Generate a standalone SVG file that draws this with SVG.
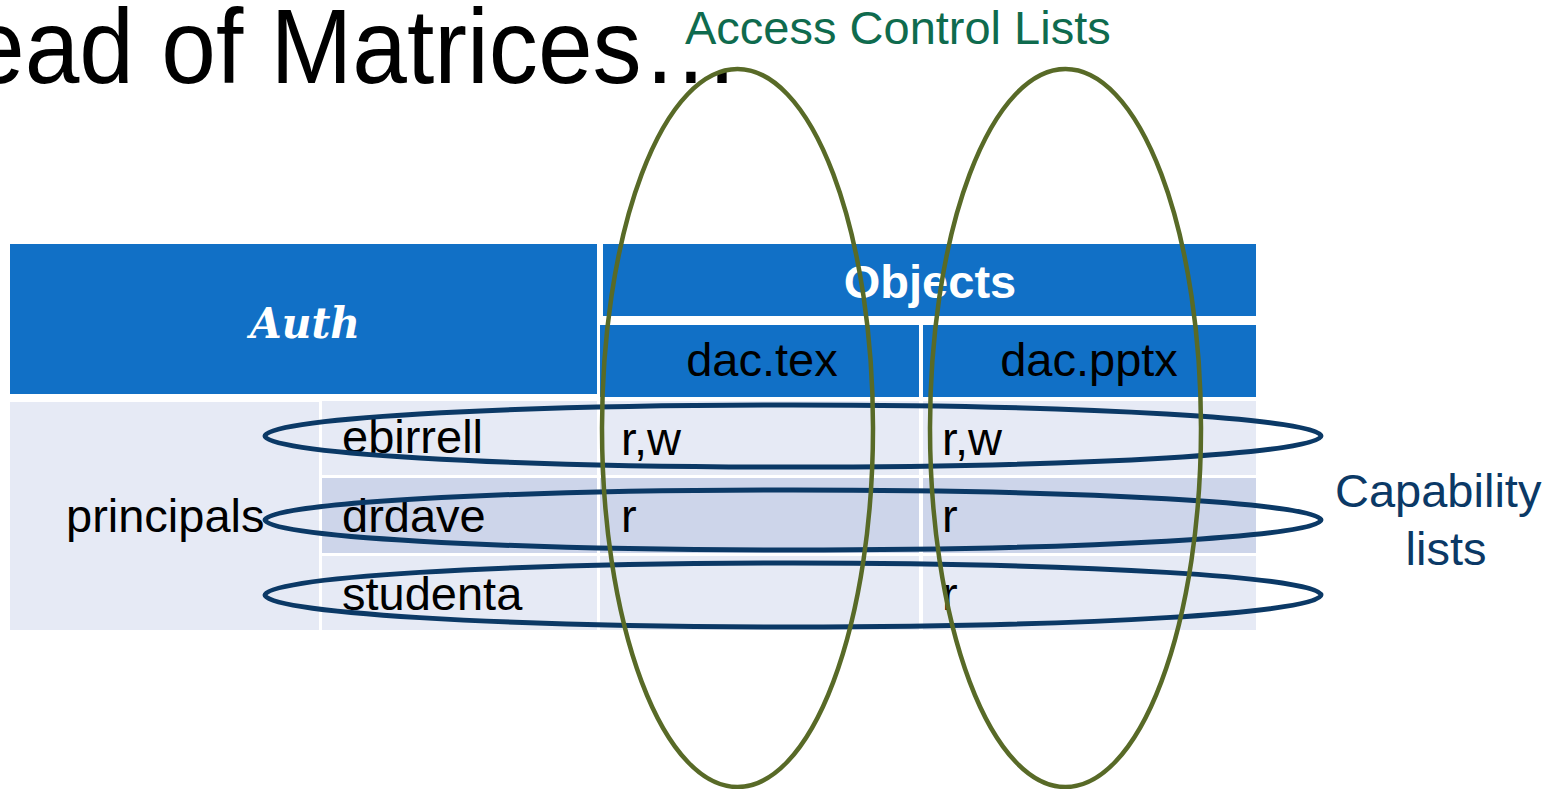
<svg xmlns="http://www.w3.org/2000/svg" width="1557" height="789" viewBox="0 0 1557 789">
<style>
  .hdr{fill:#1170C6}
  .lt{fill:#E6EAF5}
  .dk{fill:#CDD5EA}
  .cell{font-family:"Liberation Sans",Arial,sans-serif;font-size:47px;fill:#000}
  .hw{font-family:"Liberation Sans",Arial,sans-serif;font-size:47px;font-weight:bold;fill:#fff}
  .acl{fill:none;stroke:#586A27;stroke-width:4.5}
  .cap{fill:none;stroke:#0B3966;stroke-width:5}
</style>
<rect width="1557" height="789" fill="#fff"/>
<text id="title" x="-30" y="83" font-family="Liberation Sans, Arial, sans-serif" font-size="106" fill="#000" textLength="770" lengthAdjust="spacingAndGlyphs">ead of Matrices…</text>
<g id="label-acl"><text x="685" y="44" font-family="Liberation Sans, Arial, sans-serif" font-size="47" fill="#0F6B4E">Access Control Lists</text></g>
<g id="label-cap" font-family="Liberation Sans, Arial, sans-serif" font-size="47" fill="#0B3966">
  <text x="1335" y="507">Capability</text>
  <text x="1446" y="565" text-anchor="middle">lists</text>
</g>
<g id="table">
  <g id="cell-auth"><rect class="hdr" x="10" y="244" width="587" height="150"/>
    <text x="305" y="338" text-anchor="middle" font-family="DejaVu Serif, serif" font-style="italic" font-weight="bold" font-size="42" fill="#fff" textLength="110" lengthAdjust="spacingAndGlyphs">Auth</text></g>
  <g id="cell-objects"><rect class="hdr" x="603" y="244" width="653" height="72"/>
    <text class="hw" x="930" y="298" text-anchor="middle">Objects</text></g>
  <g id="cell-dactex"><rect class="hdr" x="600" y="325" width="319" height="72"/>
    <text class="cell" x="762" y="376" text-anchor="middle">dac.tex</text></g>
  <g id="cell-dacpptx"><rect class="hdr" x="923" y="325" width="333" height="72"/>
    <text class="cell" x="1089" y="376" text-anchor="middle">dac.pptx</text></g>
  <g id="cell-principals"><rect class="lt" x="10" y="402" width="309" height="228"/>
    <text class="cell" x="66" y="532">principals</text></g>
  <g id="row-ebirrell">
    <rect class="lt" x="322" y="401" width="275" height="74"/>
    <rect class="lt" x="600" y="401" width="319" height="74"/>
    <rect class="lt" x="923" y="401" width="333" height="74"/>
    <text class="cell" x="342" y="453">ebirrell</text>
    <text class="cell" x="621" y="455">r,w</text>
    <text class="cell" x="942" y="455">r,w</text>
  </g>
  <g id="row-drdave">
    <rect class="dk" x="322" y="478" width="275" height="75"/>
    <rect class="dk" x="600" y="478" width="319" height="75"/>
    <rect class="dk" x="923" y="478" width="333" height="75"/>
    <text class="cell" x="342" y="532">drdave</text>
    <text class="cell" x="621" y="532">r</text>
    <text class="cell" x="942" y="532">r</text>
  </g>
  <g id="row-studenta">
    <rect class="lt" x="322" y="556" width="275" height="74"/>
    <rect class="lt" x="600" y="556" width="319" height="74"/>
    <rect class="lt" x="923" y="556" width="333" height="74"/>
    <text class="cell" x="342" y="610">studenta</text>
    <text class="cell" x="942" y="610">r</text>
  </g>
</g>
<g id="capability-lists">
  <ellipse id="cap-ebirrell" class="cap" cx="793" cy="436" rx="528" ry="31"/>
  <ellipse id="cap-drdave" class="cap" cx="793" cy="520" rx="528" ry="30"/>
  <ellipse id="cap-studenta" class="cap" cx="793" cy="595" rx="528" ry="32"/>
</g>
<g id="access-control-lists">
  <ellipse id="acl-dactex" class="acl" cx="737.5" cy="428" rx="135.5" ry="359"/>
  <ellipse id="acl-dacpptx" class="acl" cx="1065.5" cy="428" rx="135.5" ry="359"/>
</g>
</svg>
